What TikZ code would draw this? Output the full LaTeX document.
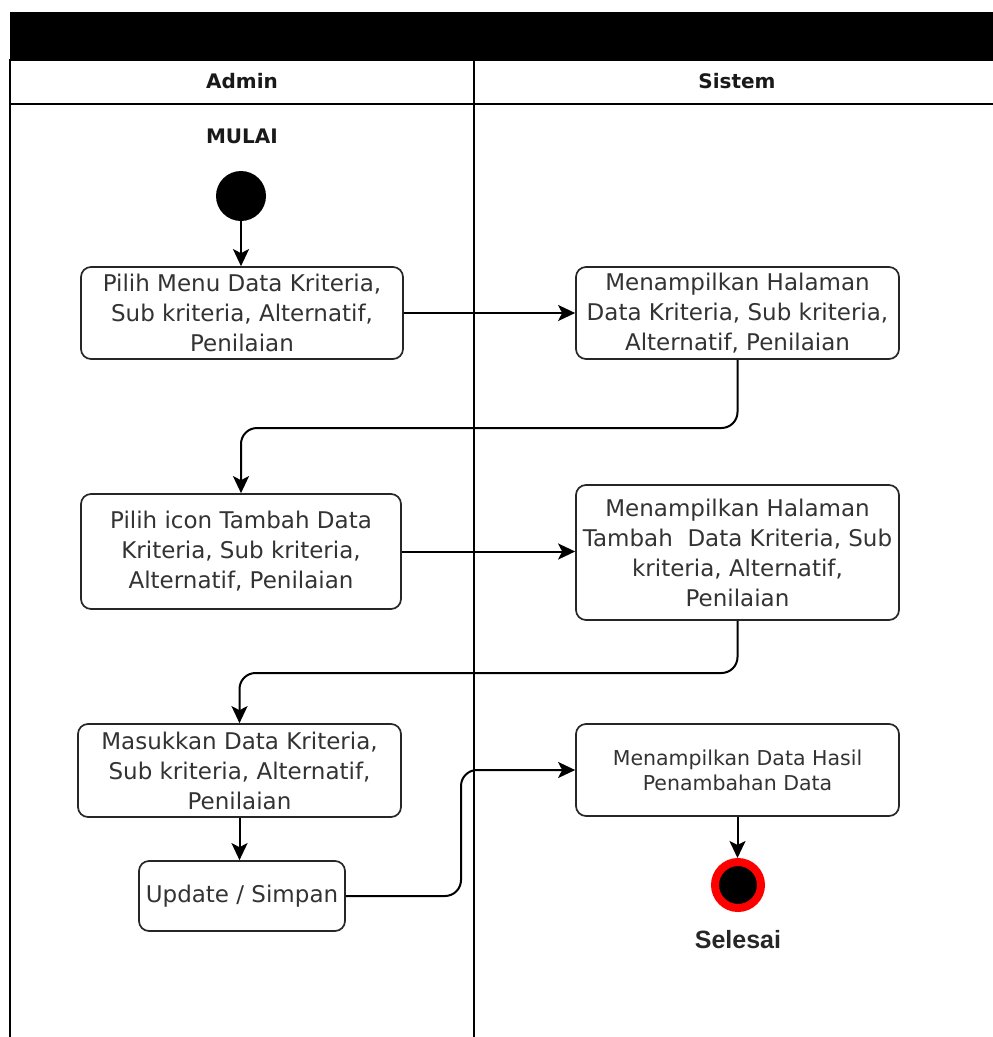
\documentclass[tikz,border=0pt]{standalone}
\usepackage{fontspec}
\setmainfont{DejaVu Sans}
\newfontfamily\labelfont{Liberation Sans}
\usetikzlibrary{arrows.meta,calc}

\begin{document}
\begin{tikzpicture}[x=1pt,y=-1pt,
  act/.style={draw=black!85, line width=1.7pt, rounded corners=10pt, fill=white,
    align=center, text=black!80, inner sep=0pt,
    font=\fontsize{23}{30}\selectfont},
  smallact/.style={act, font=\fontsize{20.5}{25}\selectfont},
  flow/.style={line width=2pt, rounded corners=16pt,
    -{Stealth[length=17pt,width=16pt,inset=4pt]}},
  lane/.style={line width=1.9pt},
  lanehead/.style={font=\bfseries\fontsize{20}{24}\selectfont, text=black!90}]
\useasboundingbox (0,0) rectangle (993,1037);

% pool header and swimlanes
\fill (10,12) rectangle (993,60);
\draw[lane] (993,60) -- (10,60) -- (10,1037);
\draw[lane] (10,104) -- (993,104);
\draw[lane] (474,60) -- (474,1037);
\node[lanehead] (hAdmin) at (242,81) {Admin};
\node[lanehead] (hSistem) at (737,81) {Sistem};

% start and end
\node[lanehead] (mulai) at (242,136) {MULAI};
\node[circle, fill=black, minimum size=50pt, inner sep=0pt] (start) at (241,196) {};
\node[circle, fill=black, draw=red, line width=8pt, minimum size=46pt, inner sep=0pt] (finish) at (738,885) {};
\node[font=\labelfont\bfseries\fontsize{25}{30}\selectfont, text=black!85] (selesai) at (738,940) {Selesai};

% activities: Admin lane
\node[act, minimum width=322pt, minimum height=92pt] (a1) at (242,313)
  {Pilih Menu Data Kriteria,\\Sub kriteria, Alternatif,\\Penilaian};
\node[act, minimum width=320pt, minimum height=115pt] (a2) at (241,551.5)
  {Pilih icon Tambah Data\\Kriteria, Sub kriteria,\\Alternatif, Penilaian};
\node[act, minimum width=323pt, minimum height=93pt] (a3) at (239.5,770.5)
  {Masukkan Data Kriteria,\\Sub kriteria, Alternatif,\\Penilaian};
\node[act, minimum width=206pt, minimum height=70pt] (upd) at (242,896)
  {Update / Simpan};

% activities: Sistem lane
\node[act, minimum width=323pt, minimum height=92pt] (s1) at (737.5,313)
  {Menampilkan Halaman\\Data Kriteria, Sub kriteria,\\Alternatif, Penilaian};
\node[act, minimum width=323pt, minimum height=135pt] (s2) at (737.5,552.5)
  {Menampilkan Halaman\\Tambah\ \ Data Kriteria, Sub\\kriteria, Alternatif,\\Penilaian};
\node[smallact, minimum width=323pt, minimum height=92pt] (s3) at (737.5,770)
  {Menampilkan Data Hasil\\Penambahan Data};

% bends of the return flows
\coordinate (turn1) at (0,428);
\coordinate (turn2) at (0,673);
\coordinate (jog) at (461,0);

% control flow
\draw[flow] (start) -- (start |- a1.north);
\draw[flow] (a1.east) -- (a1.east -| s1.west);
\draw[flow] (s1.south) -- (s1.south |- turn1) -- (a2.north |- turn1) -- (a2.north);
\draw[flow] (a2.east) -- (a2.east -| s2.west);
\draw[flow] (s2.south) -- (s2.south |- turn2) -- (a3.north |- turn2) -- (a3.north);
\draw[flow] (a3.south) -- (a3.south |- upd.north);
\draw[flow] (upd.east) -- (upd.east -| jog) -- (jog |- s3.west) -- (s3.west);
\draw[flow] (s3.south) -- (s3.south |- finish.north);
\end{tikzpicture}
\end{document}
